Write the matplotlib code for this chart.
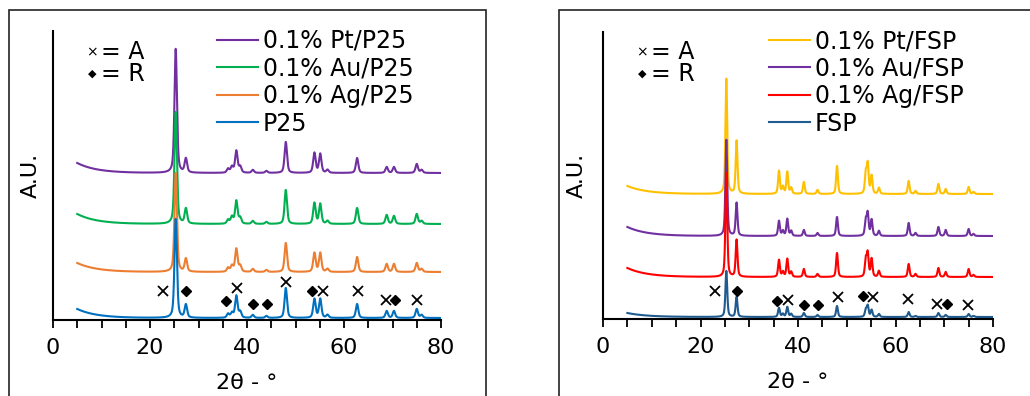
import numpy as np
import matplotlib
matplotlib.use('Agg')
import matplotlib.pyplot as plt
import matplotlib.ticker as ticker
from matplotlib.patches import Rectangle

# ---- data (2theta in deg, intensity in arbitrary offsets) ----
tt_start, tt_end = 5.0, 80.0

# left panel: P25 based samples
p25_peaks = [25.3, 27.4, 36.1, 36.9, 37.8, 38.6, 41.2, 44.0, 48.0, 53.9, 55.1, 56.6, 62.7, 68.8, 70.3, 75.0, 76.0]
p25_labels = ['0.1% Pt/P25', '0.1% Au/P25', '0.1% Ag/P25', 'P25']
p25_colors = ['#7030A0', '#00B050', '#ED7D31', '#0070C0']
p25_base = [147, 96, 48, 2]
p25_rise = [10, 10, 9, 9]
p25_heights = [
    [124, 14, 4, 6, 22, 6, 3, 2, 31, 20, 19, 3, 15, 6, 6, 9, 3],
    [112, 15, 4, 7, 23, 6, 3, 2, 34, 21, 20, 3, 16, 9, 8, 10, 3],
    [99, 13, 4, 6, 23, 6, 3, 2, 29, 19, 19, 3, 15, 8, 8, 9, 3],
    [99, 13, 4, 5, 22, 6, 3, 2, 30, 19, 19, 3, 14, 7, 7, 9, 3],
]
p25_anatase = [(22.7, 29), (37.9, 32), (48.0, 38), (55.7, 29), (62.8, 29), (68.6, 20), (75.0, 20)]
p25_rutile = [(27.4, 29), (35.6, 19), (41.3, 16), (44.1, 16), (53.4, 29), (70.6, 20)]

# right panel: FSP based samples
fsp_peaks = [25.3, 27.4, 36.1, 36.9, 37.8, 38.6, 41.2, 44.0, 48.0, 53.9, 54.3, 55.1, 56.6, 62.7, 64.1, 68.8, 70.3, 75.0, 76.0]
fsp_labels = ['0.1% Pt/FSP', '0.1% Au/FSP', '0.1% Ag/FSP', 'FSP']
fsp_colors = ['#FFC000', '#7030A0', '#FF0000', '#1F5B8F']
fsp_base = [125, 83, 42, 2]
fsp_rise = [8, 9, 9, 4]
fsp_heights = [
    [115, 53, 23, 7, 22, 6, 12, 4, 28, 20, 29, 18, 6, 13, 3, 10, 5, 7, 2],
    [96, 33, 15, 5, 17, 5, 6, 3, 19, 15, 22, 16, 5, 13, 3, 9, 6, 7, 2],
    [104, 37, 17, 5, 18, 5, 8, 3, 24, 17, 23, 18, 6, 13, 3, 9, 5, 8, 2],
    [46, 20, 9, 3, 10, 3, 4, 2, 11, 7, 11, 7, 3, 5, 1, 4, 2, 3, 1],
]
fsp_anatase = [(23.0, 28), (38.0, 19), (48.2, 22), (55.4, 22), (62.6, 20), (68.5, 15), (74.9, 14)]
fsp_rutile = [(27.5, 28), (35.7, 18), (41.2, 14), (44.1, 14), (53.3, 23), (70.6, 15)]


def pattern(x, peaks, heights, base, rise, hw):
    y = base + rise * np.exp(-(x - tt_start) / 4.0)
    for c, h in zip(peaks, heights):
        d = (x - c) / hw
        y = y + h * (0.5 / (1 + d ** 2) + 0.5 * np.exp(-np.log(2) * d ** 2))
    return y


plt.rcParams['font.family'] = ['DejaVu Sans']
fs = 16
fs_leg = 17

fig = plt.figure(figsize=(10.30, 3.96), dpi=100)
W, H = 1030., 396.

# chart borders (Excel chart areas)
fig.patches.append(Rectangle((9 / W, -0.1), (486 - 9) / W, 1.1 - 10 / H, transform=fig.transFigure,
                             fill=False, ec='#222222', lw=1.2))
fig.patches.append(Rectangle((559 / W, -0.1), 0.5, 1.1 - 10 / H, transform=fig.transFigure,
                             fill=False, ec='#222222', lw=1.2))

x = np.arange(tt_start, tt_end + 0.001, 0.02)

panels = [
    (53, 441, 320, 31, p25_peaks, p25_labels, p25_colors, p25_base, p25_rise, p25_heights,
     p25_anatase, p25_rutile, 0.3, 22, 164),
    (603, 993, 319, 32, fsp_peaks, fsp_labels, fsp_colors, fsp_base, fsp_rise, fsp_heights,
     fsp_anatase, fsp_rutile, 0.22, 26, 166),
]

for (x0, x1, yb, yt, peaks, labels, colors, base, rise, heights, ana, rut, hw, ylab_off, leg_x) in panels:
    ax = fig.add_axes([x0 / W, (H - yb) / H, (x1 - x0) / W, (yb - yt) / H])
    aw, ah = float(x1 - x0), float(yb - yt)
    for lab, col, b, r, h in zip(labels, colors, base, rise, heights):
        ax.plot(x, pattern(x, peaks, h, b, r, hw), color=col, lw=1.5, label=lab)
    ax.plot([p[0] for p in ana], [p[1] for p in ana], ls='none', marker='x', ms=7, mew=1.3, color='k')
    ax.plot([p[0] for p in rut], [p[1] for p in rut], ls='none', marker='D', ms=5.5, color='k')

    ax.set_xlim(0, 80)
    ax.set_ylim(0, ah)
    ax.xaxis.set_major_locator(ticker.MultipleLocator(20))
    ax.xaxis.set_minor_locator(ticker.MultipleLocator(5))
    ax.tick_params(axis='x', which='both', direction='out', length=6, width=1.3, labelsize=fs, pad=7)
    ax.set_yticks([])
    for s in ['top', 'right']:
        ax.spines[s].set_visible(False)
    for s in ['left', 'bottom']:
        ax.spines[s].set_linewidth(1.5)
    ax.patch.set_alpha(0)

    ax.set_xlabel('2θ - °', fontsize=fs)
    ax.xaxis.set_label_coords(0.5, -63 / ah)
    ax.xaxis.label.set_va('center')
    ax.set_ylabel('A.U.', fontsize=fs)
    ax.yaxis.set_label_coords(-ylab_off / aw, 0.5)
    ax.yaxis.label.set_va('center')

    # phase key
    ax.text(39 / aw, (yb - 52) / ah, '×', fontsize=10, ha='center', va='center', transform=ax.transAxes)
    ax.text(48 / aw, (yb - 52) / ah, '= A', fontsize=fs_leg, ha='left', va='center', transform=ax.transAxes)
    ax.text(39 / aw, (yb - 74) / ah, '◆', fontsize=8, ha='center', va='center', transform=ax.transAxes)
    ax.text(48 / aw, (yb - 74) / ah, '= R', fontsize=fs_leg, ha='left', va='center', transform=ax.transAxes)

    ax.legend(loc='upper left', bbox_to_anchor=(leg_x / aw, (yb - 29) / ah),
              frameon=False, fontsize=fs_leg, handlelength=1.75, handletextpad=0.2,
              labelspacing=0.15, borderpad=0, borderaxespad=0)

fig.savefig('out.png', dpi=100)
